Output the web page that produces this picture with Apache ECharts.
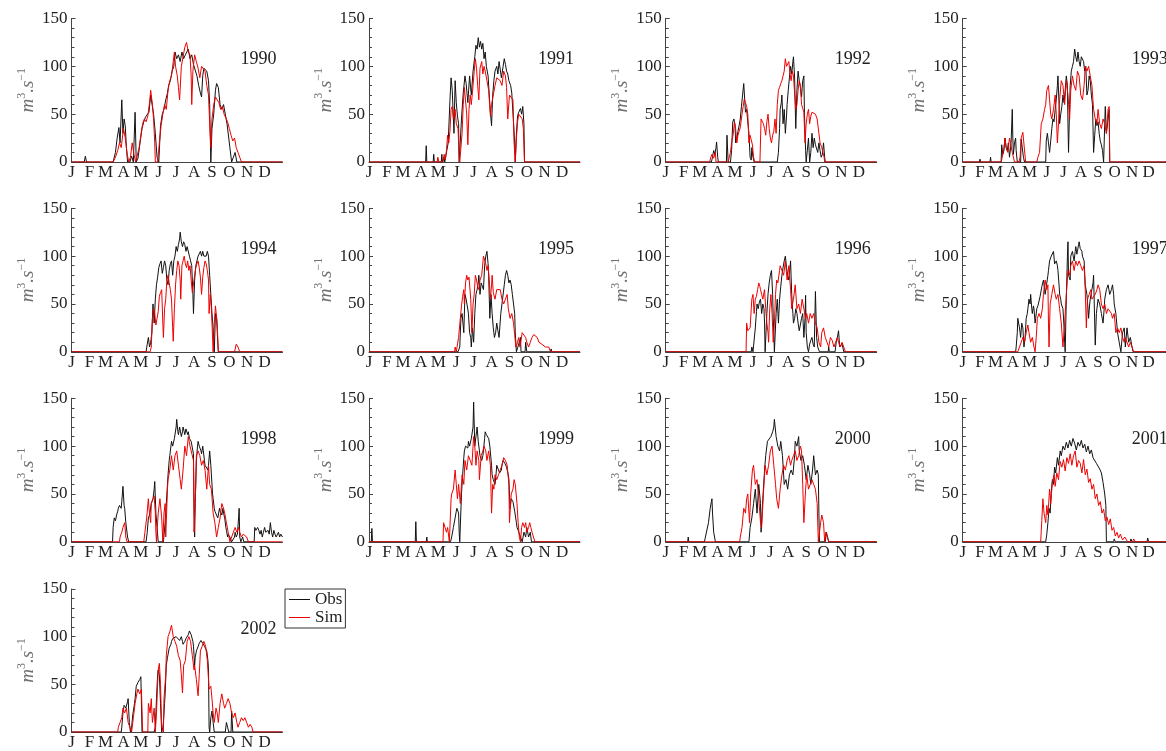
<!DOCTYPE html>
<html>
<head>
<meta charset="utf-8">
<script src="https://cdn.jsdelivr.net/npm/echarts@6/dist/echarts.min.js"></script>
<style>
  html, body { margin: 0; padding: 0; background: #fff; }
  #chart { width: 1166px; height: 751px; }
</style>
</head>
<body>
<div id="chart"></div>
<script>
// Daily discharge, observed vs simulated, one panel per year.
// Points are [day of year, discharge in m3/s].
const years = [1990, 1991, 1992, 1993, 1994, 1995, 1996, 1997, 1998, 1999, 2000, 2001, 2002];
const monthStarts = [0, 31, 59, 90, 120, 151, 181, 212, 243, 273, 304, 334];
const monthLabels = ['J', 'F', 'M', 'A', 'M', 'J', 'J', 'A', 'S', 'O', 'N', 'D'];
const yTickStep = 50;
const yMax = 150;

const obs1990 = [[0,0],[22,0],[24,6],[26,0],[40,0],[41,2],[43,0],[72,0],[76,10],[79,25],[82,36],[84,20],[87,65],[89,30],[91,45],[93,38],[95,15],[97,0],[101,0],[104,6],[107,0],[110,52],[112,0],[115,4],[119,22],[122,35],[125,42],[128,47],[131,45],[134,52],[137,70],[139,68],[142,50],[145,30],[148,5],[151,0],[154,38],[157,50],[160,55],[163,65],[166,72],[168,80],[171,85],[174,95],[177,100],[179,115],[182,108],[185,112],[188,105],[191,115],[194,108],[197,112],[200,110],[202,118],[205,108],[208,112],[211,102],[214,100],[217,90],[220,80],[223,72],[225,68],[227,90],[229,98],[232,100],[234,95],[237,85],[239,60],[241,0],[243,35],[246,50],[249,75],[251,82],[254,78],[257,60],[260,55],[263,60],[266,50],[269,40],[272,25],[274,15],[277,0],[280,5],[283,10],[286,0],[365,0]];
const sim1990 = [[0,0],[72,0],[76,5],[80,12],[83,20],[86,15],[90,35],[93,25],[96,10],[99,0],[102,5],[105,20],[108,8],[111,0],[114,2],[117,15],[120,28],[123,40],[126,45],[129,42],[132,48],[135,62],[137,75],[140,60],[142,45],[144,20],[145,0],[149,0],[152,20],[155,38],[158,50],[161,60],[164,55],[167,75],[170,85],[173,90],[176,105],[178,115],[180,100],[183,90],[185,78],[187,65],[190,100],[193,110],[196,120],[199,125],[202,115],[205,112],[207,90],[208,60],[210,95],[213,112],[216,105],[219,98],[222,88],[225,100],[228,102],[231,95],[234,80],[237,70],[239,40],[241,15],[243,45],[246,60],[249,68],[252,70],[255,62],[258,55],[261,58],[264,50],[267,48],[270,42],[273,35],[276,28],[279,22],[282,25],[285,15],[288,10],[291,5],[294,0],[365,0]];

const obs1991 = [[0,0],[98,0],[99,17],[100,0],[111,0],[112,8],[113,0],[125,0],[126,8],[127,0],[130,5],[131,0],[134,0],[137,20],[140,64],[142,88],[144,75],[146,45],[147,30],[149,85],[151,62],[153,48],[155,40],[156,0],[158,0],[160,45],[163,72],[166,90],[168,82],[171,62],[174,90],[177,70],[180,95],[183,110],[185,122],[187,118],[189,130],[191,120],[193,126],[195,118],[197,124],[199,108],[201,115],[203,100],[206,90],[208,70],[210,52],[212,38],[214,70],[216,85],[218,95],[221,100],[223,92],[225,105],[227,97],[229,88],[232,100],[234,108],[236,102],[238,95],[240,92],[242,85],[245,80],[247,72],[250,70],[252,20],[253,0],[255,30],[257,48],[259,52],[262,56],[264,50],[266,58],[268,40],[269,0],[365,0]];
const sim1991 = [[0,0],[118,0],[119,5],[121,0],[128,0],[130,8],[132,2],[134,12],[136,28],[138,20],[140,32],[142,55],[144,58],[146,45],[149,55],[151,40],[154,35],[156,5],[157,0],[159,0],[161,30],[163,60],[165,78],[167,80],[169,50],[171,18],[173,55],[175,70],[177,60],[180,80],[182,95],[184,108],[186,98],[188,80],[190,65],[192,98],[195,105],[197,92],[199,100],[201,95],[204,85],[207,75],[210,48],[212,60],[215,70],[218,80],[221,88],[224,90],[227,85],[230,80],[233,95],[236,90],[238,78],[240,45],[243,70],[246,70],[249,65],[251,20],[253,0],[255,25],[257,42],[259,50],[262,48],[265,45],[267,35],[269,0],[365,0]];

const obs1992 = [[0,0],[79,0],[81,5],[83,12],[85,8],[87,15],[88,21],[90,5],[91,0],[105,0],[106,28],[108,0],[112,0],[114,12],[116,42],[118,45],[120,38],[121,20],[123,25],[125,32],[127,38],[129,45],[131,58],[133,70],[135,82],[137,62],[138,52],[140,55],[142,42],[144,30],[146,5],[148,2],[149,15],[151,5],[153,0],[193,0],[195,10],[197,35],[198,55],[200,62],[201,70],[203,40],[205,55],[207,30],[209,48],[210,60],[212,75],[214,88],[216,100],[218,92],[220,105],[221,110],[223,88],[224,60],[225,35],[227,75],[229,95],[231,85],[233,78],[235,68],[237,85],[239,90],[240,50],[242,12],[243,0],[245,0],[247,25],[249,0],[251,10],[253,30],[255,15],[257,25],[259,18],[261,20],[263,10],[265,20],[267,12],[269,5],[271,8],[273,20],[275,5],[276,0],[365,0]];
const sim1992 = [[0,0],[76,0],[78,5],[80,8],[83,4],[86,10],[87,0],[108,0],[110,5],[112,10],[114,20],[117,30],[119,42],[121,35],[123,20],[125,28],[127,32],[129,36],[132,50],[134,58],[136,66],[138,62],[140,58],[142,50],[144,20],[146,28],[148,30],[150,18],[152,5],[154,0],[163,0],[165,45],[167,47],[169,40],[171,35],[173,28],[175,42],[177,50],[179,35],[181,25],[183,20],[185,28],[187,32],[189,45],[191,30],[193,60],[195,75],[197,78],[199,82],[201,85],[203,90],[205,95],[207,108],[209,100],[211,102],[213,105],[215,92],[217,85],[219,95],[221,90],[223,72],[225,55],[227,60],[229,75],[231,85],[233,80],[235,60],[237,56],[239,52],[241,20],[243,40],[245,50],[247,55],[249,40],[251,48],[253,52],[256,53],[259,50],[262,45],[265,30],[267,20],[270,15],[272,10],[274,5],[275,0],[365,0]];

const obs1993 = [[0,0],[30,0],[31,3],[32,0],[49,0],[50,5],[51,0],[69,0],[70,18],[72,8],[74,12],[76,25],[78,15],[80,12],[82,20],[84,5],[86,15],[87,22],[89,55],[90,25],[91,8],[93,20],[95,25],[96,12],[98,0],[104,0],[105,24],[107,15],[109,5],[111,0],[149,0],[150,22],[152,30],[154,20],[156,10],[158,22],[160,35],[162,45],[164,42],[166,55],[168,65],[170,80],[171,90],[173,60],[174,40],[176,50],[178,58],[180,70],[182,62],[184,75],[186,90],[188,80],[189,40],[190,10],[192,60],[193,80],[195,95],[197,100],[199,105],[201,118],[203,110],[205,105],[207,115],[209,105],[211,100],[213,110],[215,112],[217,105],[219,95],[221,100],[223,70],[225,75],[227,90],[229,85],[231,70],[233,60],[235,10],[237,28],[239,45],[241,38],[243,42],[245,30],[247,22],[249,18],[251,12],[253,0],[255,40],[256,58],[258,30],[260,40],[262,50],[263,55],[264,0],[365,0]];
const sim1993 = [[0,0],[69,0],[71,5],[74,15],[76,25],[78,15],[81,10],[84,25],[86,20],[89,10],[93,0],[101,0],[103,5],[105,25],[108,31],[111,32],[113,0],[133,0],[135,5],[138,10],[141,40],[144,45],[147,55],[149,60],[151,75],[154,80],[156,65],[158,50],[160,45],[163,55],[166,70],[168,50],[170,20],[172,40],[174,65],[177,85],[180,80],[183,60],[186,85],[189,70],[192,45],[194,75],[197,90],[200,80],[203,75],[206,95],[209,90],[212,70],[215,65],[218,80],[220,100],[223,95],[226,100],[229,90],[232,80],[235,55],[238,45],[241,40],[243,55],[246,40],[249,35],[252,45],[255,40],[258,30],[261,55],[263,58],[264,0],[365,0]];

const obs1994 = [[0,0],[129,0],[131,8],[133,15],[135,5],[137,10],[139,20],[141,50],[143,30],[145,55],[147,70],[149,78],[151,88],[153,92],[155,95],[157,82],[159,88],[161,95],[163,90],[165,75],[167,70],[169,85],[171,92],[173,95],[175,80],[177,95],[179,100],[181,110],[183,105],[185,112],[187,118],[188,125],[190,115],[192,110],[194,115],[196,112],[198,105],[200,110],[202,108],[204,100],[206,95],[208,90],[210,60],[211,40],[213,75],[215,90],[217,95],[219,100],[221,98],[223,105],[225,100],[227,105],[229,100],[231,102],[233,100],[235,105],[237,100],[239,80],[241,60],[243,40],[245,25],[247,0],[249,40],[251,35],[253,10],[254,0],[365,0]];
const sim1994 = [[0,0],[136,0],[138,5],[140,35],[142,45],[144,40],[146,28],[148,35],[150,42],[152,58],[154,62],[156,65],[158,30],[159,15],[161,45],[163,55],[165,75],[167,80],[169,72],[171,65],[173,55],[175,25],[176,11],[178,45],[180,70],[182,85],[184,95],[186,90],[188,75],[189,55],[191,90],[193,95],[195,100],[197,92],[199,88],[201,95],[203,85],[205,90],[207,75],[209,62],[211,60],[213,80],[215,88],[217,92],[219,95],[221,88],[223,78],[225,60],[227,78],[229,88],[231,95],[233,92],[235,85],[237,75],[238,40],[240,60],[242,45],[243,30],[245,0],[247,30],[249,48],[250,50],[252,30],[254,0],[282,0],[285,8],[288,5],[291,0],[365,0]];

const obs1995 = [[0,0],[154,0],[157,5],[159,35],[161,40],[162,42],[164,20],[166,60],[168,55],[170,48],[172,40],[174,20],[176,15],[177,5],[179,25],[181,10],[183,40],[185,60],[187,65],[189,72],[190,80],[192,60],[194,72],[196,70],[198,65],[200,90],[202,100],[204,105],[206,92],[207,80],[209,35],[211,60],[213,40],[215,25],[217,15],[219,20],[221,30],[223,22],[225,15],[228,40],[231,55],[234,70],[236,80],[238,85],[240,80],[242,72],[244,75],[246,70],[248,60],[250,50],[252,40],[253,20],[255,0],[258,0],[260,10],[262,15],[263,0],[270,0],[271,10],[273,0],[314,0],[315,3],[316,0],[365,0]];
const sim1995 = [[0,0],[148,0],[149,5],[151,0],[153,0],[155,15],[158,35],[160,48],[162,58],[164,65],[165,50],[167,72],[169,80],[171,75],[173,78],[174,80],[176,55],[178,20],[180,50],[182,60],[184,80],[186,75],[188,68],[190,65],[192,75],[195,80],[198,100],[200,102],[202,92],[204,85],[206,90],[208,75],[210,55],[212,70],[213,80],[215,62],[218,55],[221,65],[224,63],[227,65],[230,55],[233,50],[236,55],[239,60],[241,45],[244,35],[247,40],[250,30],[252,18],[254,5],[256,8],[259,15],[261,5],[263,12],[265,20],[268,22],[271,15],[273,10],[276,5],[279,10],[282,15],[285,18],[288,20],[291,15],[294,10],[297,12],[299,8],[302,10],[305,5],[308,3],[311,5],[314,0],[365,0]];

const obs1996 = [[0,0],[148,0],[149,5],[151,0],[153,0],[155,25],[157,42],[158,50],[160,45],[162,52],[164,55],[166,40],[168,50],[170,45],[171,30],[172,0],[174,0],[175,40],[177,60],[179,72],[181,80],[183,85],[185,60],[186,35],[187,20],[188,0],[190,0],[191,40],[193,55],[195,30],[197,55],[199,68],[201,80],[203,88],[205,95],[207,100],[209,88],[211,80],[213,75],[215,88],[216,95],[218,60],[220,40],[221,30],[223,35],[225,45],[227,40],[229,30],[231,22],[233,20],[235,35],[237,40],[239,15],[241,35],[242,59],[243,20],[245,5],[247,0],[249,8],[251,12],[253,15],[255,8],[257,5],[259,63],[261,15],[263,5],[266,0],[281,0],[282,5],[283,0],[293,0],[295,10],[297,15],[299,22],[301,5],[303,3],[305,8],[307,3],[308,0],[365,0]];
const sim1996 = [[0,0],[139,0],[140,30],[142,22],[144,20],[146,25],[148,45],[149,55],[151,60],[153,40],[155,55],[157,58],[159,65],[161,72],[163,68],[164,65],[166,60],[168,55],[170,62],[171,65],[173,45],[175,30],[177,20],[178,10],[180,45],[182,60],[184,40],[186,10],[188,30],[190,60],[192,75],[194,72],[195,70],[197,85],[198,90],[201,85],[204,80],[207,95],[210,75],[213,90],[216,65],[218,45],[221,55],[224,70],[227,45],[230,50],[233,40],[236,55],[239,45],[242,35],[244,40],[247,30],[250,40],[253,35],[256,40],[259,30],[262,25],[265,10],[268,5],[270,20],[273,25],[276,15],[279,10],[282,5],[285,15],[288,12],[291,5],[294,10],[297,15],[299,10],[302,5],[305,10],[308,5],[311,0],[365,0]];

const obs1997 = [[0,0],[95,0],[96,5],[98,20],[99,35],[101,28],[102,25],[104,15],[106,30],[108,25],[110,5],[112,15],[114,35],[116,40],[117,45],[119,55],[121,50],[122,60],[124,45],[125,40],[127,48],[128,45],[130,30],[131,35],[133,45],[135,48],[137,50],[139,58],[140,60],[142,68],[143,70],[145,75],[147,65],[148,60],[150,68],[151,70],[153,80],[154,85],[156,95],[157,95],[159,100],[160,100],[162,102],[163,105],[165,92],[166,90],[168,95],[170,90],[171,85],[173,70],[174,60],[176,55],[177,50],[179,48],[180,45],[182,25],[183,10],[184,0],[185,0],[186,55],[188,100],[189,115],[190,80],[192,78],[193,75],[194,100],[196,102],[197,105],[199,98],[200,95],[202,105],[203,110],[205,102],[206,105],[208,112],[209,115],[211,108],[212,110],[214,105],[215,100],[217,98],[218,95],[220,70],[223,60],[225,45],[226,35],[228,50],[229,55],[231,62],[232,65],[234,72],[235,80],[237,30],[238,7],[240,40],[241,45],[243,55],[246,50],[249,40],[252,30],[254,45],[255,55],[258,65],[261,70],[264,60],[267,65],[269,70],[271,60],[272,50],[275,40],[278,20],[281,10],[284,0],[287,20],[290,25],[292,5],[295,25],[298,10],[301,15],[304,5],[306,0],[365,0]];
const sim1997 = [[0,0],[99,0],[102,5],[105,10],[108,15],[111,10],[114,20],[117,28],[119,20],[122,10],[125,15],[128,5],[130,0],[132,15],[134,35],[137,40],[140,35],[143,45],[145,60],[148,75],[151,65],[153,70],[154,30],[155,5],[157,50],[160,60],[163,70],[166,60],[168,55],[171,60],[174,45],[177,30],[180,5],[183,30],[186,60],[189,85],[192,80],[194,90],[197,95],[200,85],[203,95],[206,90],[209,95],[212,90],[215,85],[218,90],[220,65],[222,25],[224,55],[227,60],[230,65],[232,55],[235,55],[238,60],[241,65],[243,70],[246,65],[249,50],[252,45],[255,50],[258,40],[261,45],[264,45],[267,40],[269,35],[272,40],[275,20],[278,25],[281,20],[284,25],[287,15],[290,10],[292,15],[295,10],[298,5],[301,10],[304,5],[307,0],[365,0]];

const obs1998 = [[0,0],[62,0],[63,2],[64,0],[71,0],[72,15],[74,25],[76,22],[78,28],[80,32],[81,35],[83,38],[84,40],[86,35],[87,42],[89,58],[91,38],[92,35],[94,20],[95,20],[97,5],[99,0],[129,0],[131,10],[133,25],[135,28],[136,30],[138,40],[140,42],[141,45],[143,55],[144,63],[146,30],[148,15],[150,0],[159,0],[162,20],[164,40],[166,60],[167,70],[169,85],[170,90],[172,100],[173,105],[175,100],[176,100],[178,108],[179,110],[181,120],[182,128],[184,115],[185,112],[187,120],[188,118],[190,110],[192,115],[193,120],[195,115],[196,112],[198,118],[199,120],[201,112],[202,115],[204,108],[205,110],[207,105],[208,105],[210,95],[211,92],[212,40],[213,5],[214,40],[216,85],[218,100],[219,105],[221,100],[222,98],[224,95],[225,92],[227,100],[228,95],[230,85],[231,80],[233,82],[234,78],[236,75],[237,80],[239,95],[241,80],[242,70],[244,50],[245,45],[247,35],[248,32],[250,30],[251,30],[253,25],[254,28],[256,35],[257,32],[259,30],[260,28],[262,35],[263,30],[265,25],[267,15],[268,12],[270,5],[271,8],[273,10],[274,5],[276,3],[277,0],[280,0],[282,5],[283,10],[285,5],[287,8],[289,25],[290,35],[291,5],[293,0],[296,5],[298,0],[316,0],[317,15],[319,12],[320,10],[322,15],[324,12],[326,8],[328,12],[330,5],[332,10],[334,15],[336,10],[338,8],[340,12],[342,8],[344,20],[346,10],[348,5],[350,12],[352,8],[354,5],[356,3],[358,10],[360,5],[362,8],[365,5]];
const sim1998 = [[0,0],[83,0],[84,5],[87,10],[89,15],[92,20],[94,5],[96,0],[125,0],[127,10],[130,25],[133,45],[134,35],[137,20],[138,40],[141,45],[143,48],[145,30],[146,10],[147,0],[150,30],[153,45],[156,25],[158,0],[160,30],[162,40],[163,5],[166,55],[167,65],[170,75],[173,90],[176,75],[179,90],[182,95],[185,80],[188,65],[190,55],[193,75],[196,100],[199,90],[202,110],[205,100],[208,100],[211,85],[212,10],[215,60],[216,90],[219,95],[222,90],[225,80],[228,85],[231,75],[234,55],[237,80],[239,60],[242,55],[245,30],[248,20],[251,5],[254,15],[257,25],[260,40],[263,35],[265,30],[268,20],[271,10],[274,0],[277,5],[280,10],[283,15],[286,10],[289,15],[291,10],[294,5],[297,8],[300,10],[303,5],[306,0],[365,0]];

const obs1999 = [[0,0],[4,0],[5,14],[6,0],[49,0],[50,2],[51,0],[80,0],[81,21],[82,0],[99,0],[100,5],[101,0],[141,0],[143,5],[146,15],[149,25],[151,32],[152,35],[155,30],[156,10],[157,0],[158,0],[160,50],[162,70],[164,88],[165,95],[167,100],[169,100],[171,98],[172,105],[174,100],[175,100],[177,108],[178,110],[180,120],[181,146],[183,100],[185,110],[186,115],[187,120],[189,105],[190,100],[192,90],[194,88],[195,85],[197,90],[198,95],[200,108],[201,115],[203,112],[204,112],[206,110],[207,108],[209,100],[210,100],[212,80],[213,70],[215,65],[216,65],[218,60],[220,72],[221,80],[223,78],[224,75],[226,72],[227,70],[229,75],[230,80],[232,85],[233,85],[235,82],[236,80],[238,78],[239,75],[241,70],[242,65],[244,35],[246,45],[247,45],[249,42],[250,40],[252,32],[253,30],[255,20],[256,15],[258,12],[259,10],[262,5],[265,0],[268,10],[271,5],[273,15],[276,5],[279,10],[281,0],[365,0]];
const sim1999 = [[0,0],[128,0],[129,20],[132,22],[134,10],[136,15],[138,5],[139,0],[141,0],[142,45],[143,50],[146,55],[149,75],[151,60],[153,45],[155,60],[158,40],[161,70],[164,60],[166,85],[169,75],[172,90],[175,85],[178,80],[181,110],[183,100],[185,80],[187,95],[190,85],[191,65],[194,90],[197,95],[199,100],[202,95],[204,85],[207,95],[210,80],[212,30],[214,60],[216,55],[218,70],[221,65],[224,70],[227,75],[230,80],[233,88],[236,85],[239,80],[242,60],[243,20],[246,50],[249,55],[251,65],[253,60],[256,40],[258,20],[260,5],[262,0],[264,15],[266,20],[269,15],[271,20],[273,10],[276,15],[278,20],[280,15],[282,10],[285,10],[287,0],[365,0]];

const obs2000 = [[0,0],[38,0],[39,5],[40,0],[67,0],[68,3],[71,5],[74,20],[77,35],[79,42],[80,45],[81,30],[83,10],[86,0],[144,0],[146,15],[149,25],[152,40],[155,55],[158,30],[161,60],[164,40],[165,10],[168,45],[171,75],[173,90],[176,105],[179,105],[182,110],[185,115],[187,120],[188,128],[191,110],[194,100],[197,95],[199,105],[202,90],[205,60],[208,65],[211,55],[214,70],[217,75],[220,70],[223,90],[224,105],[227,100],[230,110],[231,95],[234,85],[237,90],[240,80],[243,65],[246,80],[249,70],[251,60],[254,75],[256,90],[259,70],[262,75],[264,70],[265,30],[266,0],[276,0],[278,10],[280,5],[282,0],[365,0]];
const sim2000 = [[0,0],[128,0],[129,5],[132,15],[135,35],[138,30],[140,45],[142,50],[145,20],[147,50],[150,75],[152,80],[155,60],[158,65],[161,45],[164,20],[166,15],[169,50],[172,80],[175,70],[178,80],[181,95],[184,100],[187,80],[190,60],[192,45],[195,35],[198,55],[201,70],[204,80],[207,75],[210,85],[213,90],[216,80],[218,85],[221,90],[224,95],[227,85],[230,90],[233,100],[235,95],[237,60],[239,20],[242,55],[244,70],[247,55],[250,60],[253,65],[256,60],[259,55],[262,40],[264,0],[266,0],[268,20],[270,28],[273,20],[275,0],[277,10],[280,12],[282,0],[365,0]];

const obs2001 = [[0,0],[149,0],[151,8],[153,20],[155,35],[157,30],[159,52],[161,65],[163,60],[165,78],[167,72],[170,88],[172,80],[175,95],[177,90],[180,100],[183,96],[186,104],[189,98],[192,106],[195,100],[198,108],[201,103],[204,96],[207,104],[210,100],[213,106],[216,98],[219,102],[222,94],[225,100],[228,92],[231,96],[234,88],[237,90],[240,82],[243,84],[246,76],[249,72],[252,62],[255,50],[257,38],[258,0],[271,0],[272,3],[274,0],[301,0],[302,3],[304,0],[331,0],[332,4],[334,0],[365,0]];
const sim2001 = [[0,0],[140,0],[142,22],[144,45],[146,30],[149,20],[151,38],[153,28],[156,55],[158,40],[161,62],[164,70],[166,58],[169,72],[172,65],[175,84],[178,78],[181,86],[184,74],[187,88],[190,82],[193,92],[196,80],[199,90],[202,95],[205,78],[208,85],[211,82],[214,72],[217,86],[220,70],[223,76],[226,62],[229,66],[232,55],[235,60],[238,45],[241,50],[244,38],[247,42],[250,30],[253,34],[256,22],[259,26],[262,18],[265,24],[268,12],[271,15],[274,6],[277,10],[280,4],[283,8],[287,2],[291,5],[296,0],[305,0],[307,3],[310,0],[322,0],[324,2],[326,0],[365,0]];

const obs2002 = [[0,0],[86,0],[87,5],[89,20],[91,28],[92,30],[94,25],[95,25],[97,32],[98,35],[100,10],[102,0],[104,5],[106,18],[107,20],[109,30],[110,35],[112,48],[113,50],[115,52],[117,54],[118,55],[120,58],[121,58],[122,0],[143,0],[145,5],[147,35],[149,60],[150,65],[152,60],[153,45],[154,30],[156,0],[158,5],[159,10],[161,30],[162,40],[164,70],[166,78],[167,80],[169,88],[170,90],[172,92],[173,95],[175,98],[176,100],[178,98],[179,98],[181,100],[182,102],[184,100],[185,100],[187,96],[188,95],[190,100],[192,95],[193,92],[195,94],[196,95],[198,98],[199,100],[201,100],[202,102],[204,106],[205,108],[207,102],[208,100],[210,95],[211,90],[213,70],[214,78],[216,85],[218,88],[219,90],[221,93],[222,95],[224,96],[225,95],[227,93],[228,92],[230,90],[231,90],[233,88],[234,85],[236,75],[237,65],[238,5],[239,0],[241,15],[243,22],[245,10],[247,0],[266,0],[268,10],[270,5],[272,0],[276,0],[277,22],[279,0],[365,0]];
const sim2002 = [[0,0],[80,0],[81,5],[84,10],[87,15],[89,25],[92,20],[95,25],[98,10],[101,5],[104,0],[107,15],[110,30],[113,40],[115,45],[118,40],[121,45],[123,0],[132,0],[133,30],[136,20],[138,35],[140,10],[143,25],[145,0],[147,20],[150,65],[152,72],[154,50],[156,5],[159,0],[160,35],[163,60],[164,80],[167,100],[170,105],[173,112],[176,100],[179,95],[182,90],[185,80],[188,75],[190,60],[192,41],[194,70],[197,75],[200,95],[203,100],[206,95],[209,80],[212,65],[213,70],[216,55],[219,38],[221,60],[223,85],[226,90],[229,95],[232,90],[235,75],[237,55],[238,45],[241,48],[243,35],[245,20],[247,10],[250,25],[252,20],[254,10],[257,30],[260,40],[263,30],[265,25],[268,30],[271,35],[274,30],[277,20],[280,15],[283,20],[286,10],[288,5],[291,10],[294,15],[297,12],[300,15],[303,10],[306,5],[309,8],[312,5],[314,0],[365,0]];

const obsByYear = [obs1990, obs1991, obs1992, obs1993, obs1994, obs1995, obs1996, obs1997, obs1998, obs1999, obs2000, obs2001, obs2002];
const simByYear = [sim1990, sim1991, sim1992, sim1993, sim1994, sim1995, sim1996, sim1997, sim1998, sim1999, sim2000, sim2001, sim2002];

// Panel layout (pixels)
const colLeft = [71.5, 369, 665.7, 962.7];
const rowTop = [18.5, 208.3, 398.3, 589];
const plotW = 211;
const plotH = 143.5;
const SERIF = "'Liberation Serif', 'DejaVu Serif', serif";
const OBS_COLOR = '#111';
const SIM_COLOR = '#ee0000';

const grid = [], xAxis = [], yAxis = [], series = [], graphic = [];

years.forEach(function (yr, i) {
  const c = i % 4, r = Math.floor(i / 4);
  const left = colLeft[c], top = rowTop[r];
  grid.push({ left: left, top: top, width: plotW, height: plotH, containLabel: false });

  xAxis.push({
    gridIndex: i, type: 'value', min: 0, max: 365,
    axisLine: { show: true, onZero: false, lineStyle: { color: '#444', width: 1 } },
    axisTick: { show: false },
    splitLine: { show: false },
    axisLabel: {
      customValues: monthStarts,
      formatter: function (v) { return monthLabels[monthStarts.indexOf(Math.round(v))] || ''; },
      margin: 2, fontFamily: SERIF, fontSize: 17, color: '#222'
    }
  });

  yAxis.push({
    gridIndex: i, type: 'value', min: 0, max: yMax, interval: yTickStep,
    axisLine: { show: true, lineStyle: { color: '#444', width: 1 } },
    axisTick: { show: true, inside: true, length: 4, lineStyle: { color: '#444' } },
    minorTick: { show: true, splitNumber: 5, length: 3, lineStyle: { color: '#444' } },
    splitLine: { show: false },
    axisLabel: { margin: 4, fontFamily: SERIF, fontSize: 17, color: '#222' },
    name: '{i|m}{s|3}{i|.s}{s|\u22121}',
    nameLocation: 'middle', nameRotate: 90, nameGap: 34,
    nameTextStyle: {
      color: '#707070', fontFamily: SERIF,
      rich: {
        i: { fontStyle: 'italic', fontSize: 19, fontFamily: SERIF, color: '#707070', lineHeight: 22, verticalAlign: 'bottom' },
        s: { fontSize: 12, fontFamily: SERIF, color: '#707070', lineHeight: 22, verticalAlign: 'top' }
      }
    }
  });

  series.push({
    name: 'Obs', type: 'line', xAxisIndex: i, yAxisIndex: i,
    data: obsByYear[i], symbol: 'none', showSymbol: false,
    lineStyle: { color: OBS_COLOR, width: 1 }, itemStyle: { color: OBS_COLOR },
    z: 2, silent: true
  });
  series.push({
    name: 'Sim', type: 'line', xAxisIndex: i, yAxisIndex: i,
    data: simByYear[i], symbol: 'none', showSymbol: false,
    lineStyle: { color: SIM_COLOR, width: 1 }, itemStyle: { color: SIM_COLOR },
    z: 3, silent: true
  });

  graphic.push({
    type: 'text', x: left + plotW - 6, y: top + 40.5, silent: true,
    style: {
      text: String(yr), textAlign: 'right', textVerticalAlign: 'middle',
      fontFamily: SERIF, fontSize: 18, fill: '#222'
    }
  });
});

const chart = echarts.init(document.getElementById('chart'), null, { renderer: 'canvas' });
chart.setOption({
  animation: false,
  backgroundColor: '#fff',
  grid: grid, xAxis: xAxis, yAxis: yAxis, series: series, graphic: graphic,
  legend: {
    data: [
      { name: 'Obs', icon: 'rect', itemStyle: { color: OBS_COLOR } },
      { name: 'Sim', icon: 'rect', itemStyle: { color: SIM_COLOR } }
    ],
    orient: 'vertical', left: 285, top: 589,
    borderColor: '#333', borderWidth: 1, borderRadius: 0,
    padding: [2, 3, 2, 4], itemGap: 1, itemWidth: 21, itemHeight: 1,
    textStyle: { fontFamily: SERIF, fontSize: 17, color: '#222', lineHeight: 17 },
    selectedMode: false
  }
});
</script>
</body>
</html>
